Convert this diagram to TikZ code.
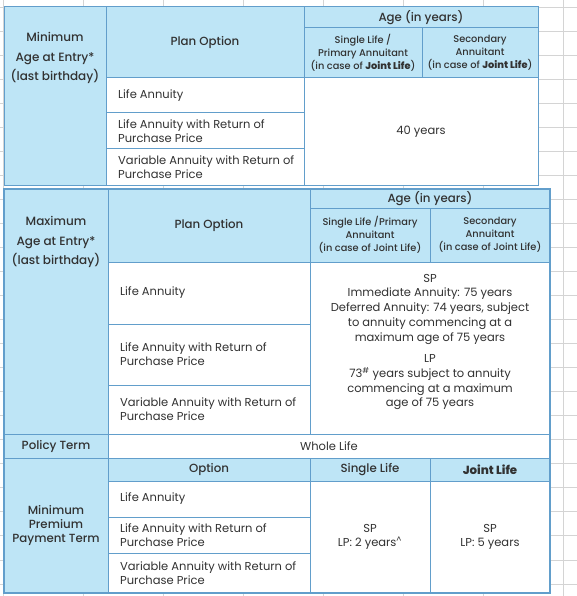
\documentclass[tikz,border=0pt]{standalone}
\usepackage{fontspec}
\setmainfont{Poppins}
\newfontfamily\medfont{Poppins Medium}
\definecolor{hdr}{RGB}{190,229,246}
\definecolor{bdr}{RGB}{98,158,203}
\definecolor{txt}{RGB}{50,50,50}
\definecolor{gridc}{RGB}{212,212,212}
\newcommand{\cellbox}[7]{%
  \pgfmathsetmacro\cw{#4-#2}\pgfmathsetmacro\ch{#5-#3}%
  \node[cellbase,#6,minimum width=\cw pt,minimum height=\ch pt,anchor=north west] (#1) at (#2,#3) {#7};}
\newcommand{\bodycell}[6]{%
  \cellbox{#1}{#2}{#3}{#4}{#5}{body}{}%
  \node[lbl,anchor=west,align=left,xshift=12pt,font=\fontsize{11.5}{14}\selectfont] (#1t) at (#1.west) {#6};}
\tikzset{
 cellbase/.style={draw=bdr, line width=1pt, inner sep=0pt, outer sep=0pt, text=txt, font=\fontsize{11.5}{14}\selectfont},
 head/.style={fill=hdr, align=center, font=\medfont\fontsize{11.8}{14}\selectfont},
 sub/.style={fill=hdr, align=center, font=\medfont\fontsize{9.8}{13}\selectfont},
 body/.style={fill=white},
 val/.style={fill=white, align=center},
 lbl/.style={text=txt, align=center, inner sep=0pt},
 lefthead/.style={lbl, font=\medfont\fontsize{12}{19.5}\selectfont},
}
\begin{document}
\begin{tikzpicture}[x=1pt,y=-1pt]
\useasboundingbox (0,0) rectangle (577,596);
\fill[white] (0,0) rectangle (577,596);
% spreadsheet grid behind
\foreach \i in {0,...,7} \draw[gridc, line width=0.8pt] ({3+80*\i},0) -- ({3+80*\i},596);
\foreach \j in {0,...,24} \draw[gridc, line width=0.8pt] (0,{7+24.04*\j}) -- (577,{7+24.04*\j});
% ---------- Table 1: minimum age ----------
\cellbox{aL}{4}{7}{106}{185}{head}{}
\node[lefthead] (aLt) at (55,58) {Minimum\\Age at Entry*\\(last birthday)};
\cellbox{aP}{106}{7}{304}{78}{head}{Plan Option}
\cellbox{aA}{304}{7}{538}{28}{head}{Age (in years)}
\cellbox{aS1}{304}{28}{422}{78}{sub}{Single Life /\\Primary Annuitant\\(in case of \textbf{Joint Life})}
\cellbox{aS2}{422}{28}{538}{78}{sub}{Secondary\\Annuitant\\(in case of \textbf{Joint Life})}
\bodycell{aR1}{106}{78}{304}{113}{Life Annuity}
\bodycell{aR2}{106}{113}{304}{149}{Life Annuity with Return of\\Purchase Price}
\bodycell{aR3}{106}{149}{304}{185}{Variable Annuity with Return of\\Purchase Price}
\cellbox{aV}{304}{78}{538}{185}{val}{40 years}
% ---------- Table 2: maximum age ----------
\cellbox{bL}{4}{189}{108}{434}{head}{}
\node[lefthead] (bLt) at (56,242) {Maximum\\Age at Entry*\\(last birthday)};
\cellbox{bP}{108}{189}{310}{262}{head}{Plan Option}
\cellbox{bA}{310}{189}{550}{208}{head}{Age (in years)}
\cellbox{bS1}{310}{208}{430}{262}{sub}{Single Life /Primary\\Annuitant\\(in case of Joint Life)}
\cellbox{bS2}{430}{208}{550}{262}{sub}{Secondary\\Annuitant\\(in case of Joint Life)}
\bodycell{bR1}{108}{262}{310}{324}{Life Annuity}
\bodycell{bR2}{108}{324}{310}{385}{Life Annuity with Return of\\Purchase Price}
\bodycell{bR3}{108}{385}{310}{434}{Variable Annuity with Return of\\Purchase Price}
\cellbox{bV}{310}{262}{550}{434}{val}{}
\node[lbl, font=\fontsize{11.5}{14.7}\selectfont] (bVt) at (430,342) {SP\\Immediate Annuity: 75 years\\Deferred Annuity: 74 years, subject\\to annuity commencing at a\\maximum age of 75 years\\[7pt]LP\\73\textsuperscript{\#} years subject to annuity\\commencing at a maximum\\age of 75 years};
% ---------- Policy term & premium payment term ----------
\cellbox{cL}{4}{434}{108}{458}{head}{Policy Term}
\cellbox{cW}{108}{434}{550}{458}{val}{Whole Life}
\cellbox{cM}{4}{458}{108}{593}{head}{Minimum\\Premium\\Payment Term}
\cellbox{cO}{108}{458}{310}{481}{head}{Option}
\cellbox{cS}{310}{458}{430}{481}{head}{Single Life}
\cellbox{cJ}{430}{458}{550}{481}{head}{\textbf{Joint Life}}
\bodycell{cR1}{108}{481}{310}{517}{Life Annuity}
\bodycell{cR2}{108}{517}{310}{553}{Life Annuity with Return of\\Purchase Price}
\bodycell{cR3}{108}{553}{310}{593}{Variable Annuity with Return of\\Purchase Price}
\cellbox{cV1}{310}{481}{430}{593}{val}{SP\\LP: 2 years\textsuperscript{\textasciicircum}}
\cellbox{cV2}{430}{481}{550}{593}{val}{SP\\LP: 5 years}
\draw[bdr, line width=1.6pt] (bL.north west) rectangle (cV2.south east);
\end{tikzpicture}
\end{document}
